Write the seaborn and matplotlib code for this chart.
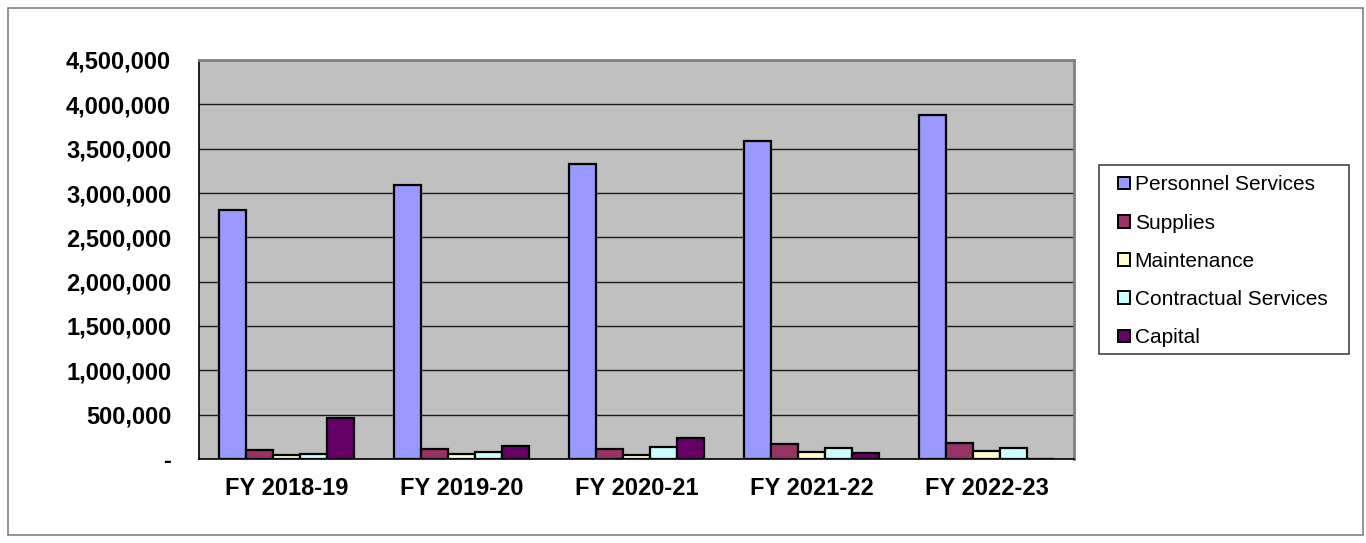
import matplotlib
matplotlib.use("Agg")
import matplotlib.pyplot as plt
from matplotlib.patches import Rectangle, Patch
from matplotlib.ticker import FuncFormatter
import seaborn as sns
import pandas as pd

years = ["FY 2018-19", "FY 2019-20", "FY 2020-21", "FY 2021-22", "FY 2022-23"]
series = ["Personnel Services", "Supplies", "Maintenance", "Contractual Services", "Capital"]
personnel = [2810000, 3090000, 3330000, 3585000, 3880000]
supplies = [100000, 112000, 112000, 165000, 183000]
maintenance = [40000, 53000, 45000, 82000, 90000]
contractual = [60000, 82000, 135000, 120000, 120000]
capital = [466000, 142000, 232000, 71000, 0]
colors = ["#9999FF", "#993366", "#FFFFCC", "#CCFFFF", "#660066"]
yticks = [0, 500000, 1000000, 1500000, 2000000, 2500000, 3000000, 3500000, 4000000, 4500000]

rows = []
for name, vals in zip(series, [personnel, supplies, maintenance, contractual, capital]):
    for y, v in zip(years, vals):
        rows.append({"Year": y, "Series": name, "Value": v})
df = pd.DataFrame(rows)

sns.set_style("white")
plt.rcParams['font.family'] = ['Liberation Sans', 'DejaVu Sans']
plt.rcParams['text.color'] = 'black'
plt.rcParams['xtick.color'] = 'black'
plt.rcParams['ytick.color'] = 'black'

fig = plt.figure(figsize=(13.66, 5.43), dpi=100)
ax = fig.add_axes([199/1366, 1-459/543, (1074-199)/1366, (459-60)/543])
ax.set_facecolor("#C0C0C0")

sns.barplot(data=df, x="Year", y="Value", hue="Series", hue_order=series,
            palette=colors, order=years, width=0.77, edgecolor="black",
            linewidth=1.6, ax=ax, legend=False, saturation=1, errorbar=None)

ax.set_ylim(0, 4500000)
ax.set_xlim(-0.5, 4.5)
ax.set_yticks(yticks)
ax.yaxis.set_major_formatter(FuncFormatter(lambda v, p: "-" if v == 0 else f"{int(v):,}"))
ax.grid(axis="y", color="#1a1a1a", linewidth=1.0)
ax.set_axisbelow(True)
ax.set_xlabel("")
ax.set_ylabel("")

for side in ["top", "right"]:
    ax.spines[side].set_color("#808080")
    ax.spines[side].set_linewidth(2)
for side in ["left", "bottom"]:
    ax.spines[side].set_color("black")
    ax.spines[side].set_linewidth(1.2)

ax.tick_params(axis="y", which="major", direction="out", length=5, width=1,
               labelsize=17, pad=15, labelcolor="black")
for lbl in ax.get_yticklabels():
    lbl.set_fontweight("bold")
ax.set_xticks(range(len(years)))
ax.set_xticklabels(years, fontsize=17, fontweight="bold", color="black")
ax.tick_params(axis="x", which="major", length=0, pad=13)
ax.set_xticks([i + 0.5 for i in range(-1, len(years))], minor=True)
ax.tick_params(axis="x", which="minor", direction="out", length=5, width=1)

handles = [Patch(facecolor=c, edgecolor="black", linewidth=1.4) for c in colors]
leg = fig.legend(handles, series, loc="upper left",
                 bbox_to_anchor=(1118/1366, 1-175.5/543), fontsize=15,
                 frameon=False, labelcolor="black",
                 handlelength=0.58, handleheight=0.55, handletextpad=0.22,
                 labelspacing=0.92, borderpad=0, borderaxespad=0)

fig.patches.append(Rectangle((1099/1366, 1-354/543), (1349-1099)/1366, (354-165)/543,
                             transform=fig.transFigure, fill=False,
                             edgecolor="#444444", linewidth=1.2))
fig.patches.append(Rectangle((8/1366, 8/543), (1363-8)/1366, (535-8)/543,
                             transform=fig.transFigure, fill=False,
                             edgecolor="#808080", linewidth=1.2))

fig.savefig("out.png", dpi=100)
